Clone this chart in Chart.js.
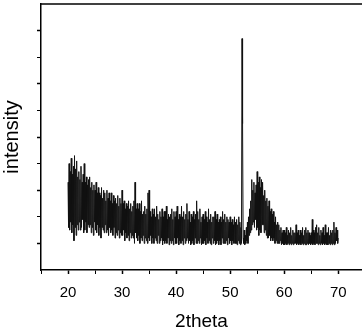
<!DOCTYPE html>
<html lang="en">
    <head>
        <meta charset="UTF-8" />
        <title>XRD pattern</title>
        <script src="https://cdn.jsdelivr.net/npm/chart.js@4.4.1/dist/chart.umd.min.js"></script>
        <style>
            html, body { margin: 0; padding: 0; background: #fff; }
        </style>
    </head>
    <body>
        <canvas id="mychart" width="362" height="333"></canvas>
        <script>
            // scan: 2theta from 20 to 70 in 0.1 degree steps
            const thetaStart = 20;
            const thetaStep = 0.1;

            // intensity (arbitrary units, 0..10 axis), one row per degree
            const intensity = [
                3.3, 1.6, 4.0, 1.5, 3.7, 1.8, 4.2, 1.4, 3.6, 1.7,   // 20
                3.9, 1.1, 4.3, 1.6, 3.8, 1.3, 4.1, 1.7, 3.5, 1.5,   // 21
                3.7, 1.8, 3.4, 1.5, 3.9, 1.6, 3.3, 1.9, 3.6, 1.4,   // 22
                4.0, 1.5, 3.3, 1.8, 3.5, 1.4, 3.2, 1.7, 3.4, 1.6,   // 23
                3.5, 1.7, 3.1, 1.4, 3.3, 1.6, 3.0, 1.3, 3.2, 1.8,   // 24
                3.0, 1.5, 3.3, 1.4, 2.9, 1.7, 3.1, 1.3, 2.9, 1.6,   // 25
                2.8, 1.2, 3.1, 1.6, 2.7, 1.5, 3.0, 1.4, 2.9, 1.7,   // 26
                2.6, 1.4, 3.0, 1.5, 2.7, 1.3, 2.9, 1.6, 2.6, 1.4,   // 27
                2.9, 1.5, 2.5, 1.3, 2.8, 1.6, 2.6, 1.2, 2.7, 1.4,   // 28
                2.5, 1.3, 2.8, 1.5, 2.4, 1.2, 2.7, 1.4, 2.5, 1.3,   // 29
                3.0, 1.3, 2.5, 1.5, 2.6, 1.1, 2.3, 1.4, 2.5, 1.2,   // 30
                2.4, 1.3, 2.6, 1.1, 2.3, 1.4, 2.5, 1.2, 2.2, 1.3,   // 31
                2.4, 1.2, 2.6, 1.0, 3.3, 1.4, 2.3, 1.2, 2.5, 1.1,   // 32
                2.3, 1.3, 2.5, 1.0, 2.2, 1.2, 2.6, 1.1, 2.1, 1.3,   // 33
                2.2, 1.0, 2.4, 1.2, 2.1, 1.1, 2.3, 1.0, 2.9, 1.2,   // 34
                3.0, 1.1, 2.2, 1.3, 2.0, 1.0, 2.3, 1.2, 2.1, 1.0,   // 35
                2.3, 1.2, 2.0, 1.1, 2.4, 1.0, 2.1, 1.3, 1.9, 1.0,   // 36
                2.2, 1.1, 2.0, 1.2, 2.3, 0.95, 2.0, 1.1, 2.2, 1.0,  // 37
                2.2, 1.1, 2.4, 1.0, 1.9, 1.2, 2.1, 0.95, 2.0, 1.1,  // 38
                2.1, 1.0, 2.3, 1.1, 1.9, 0.95, 2.2, 1.2, 2.0, 1.0,  // 39
                2.2, 1.0, 2.4, 1.2, 1.9, 0.95, 2.1, 1.1, 2.0, 1.0,  // 40
                2.4, 1.1, 2.0, 0.95, 2.2, 1.2, 1.9, 1.0, 2.1, 1.1,  // 41
                2.5, 1.2, 1.9, 1.0, 2.2, 1.1, 1.8, 0.95, 2.1, 1.0,  // 42
                2.0, 1.1, 2.2, 0.95, 1.9, 1.2, 2.1, 1.0, 2.6, 1.0,  // 43
                2.2, 1.1, 1.9, 1.0, 2.3, 1.2, 1.8, 0.95, 2.0, 1.0,  // 44
                2.1, 1.0, 1.9, 1.1, 2.2, 0.95, 2.0, 1.2, 1.8, 1.0,  // 45
                2.3, 1.1, 1.9, 1.0, 2.1, 0.95, 1.8, 1.2, 2.0, 1.0,  // 46
                2.0, 1.1, 2.2, 0.95, 1.9, 1.0, 2.1, 1.1, 1.8, 0.95, // 47
                1.9, 1.1, 2.0, 0.95, 1.8, 1.2, 2.2, 1.0, 1.9, 1.0,  // 48
                2.1, 1.0, 1.8, 1.1, 2.0, 0.95, 1.9, 1.2, 1.8, 1.0,  // 49
                2.0, 1.1, 1.8, 0.95, 1.9, 1.1, 1.7, 1.0, 2.0, 1.0,  // 50
                1.8, 1.0, 1.9, 0.95, 1.7, 1.1, 2.0, 1.0, 1.8, 0.95, // 51
                1.6, 1.0, 8.7, 5.5, 1.2, 1.0, 1.5, 0.95, 1.3, 1.0,  // 52
                1.6, 1.1, 1.8, 1.0, 2.0, 1.3, 2.3, 1.4, 2.6, 1.5,   // 53
                3.4, 1.7, 3.0, 1.8, 3.3, 1.6, 2.9, 1.9, 3.2, 1.5,   // 54
                3.7, 1.6, 3.3, 1.3, 3.5, 1.5, 3.1, 1.4, 3.4, 1.7,   // 55
                3.3, 1.7, 2.8, 1.4, 3.0, 1.5, 2.6, 1.3, 2.7, 1.2,   // 56
                2.4, 1.2, 2.6, 1.3, 2.2, 1.1, 2.3, 1.2, 2.1, 1.1,   // 57
                2.2, 1.2, 1.8, 1.0, 2.0, 1.1, 1.7, 1.0, 1.8, 1.0,   // 58
                1.7, 1.0, 1.5, 1.1, 1.6, 0.95, 1.4, 1.0, 1.5, 0.95, // 59
                1.5, 0.95, 1.4, 1.0, 1.6, 0.95, 1.3, 1.0, 1.5, 0.95, // 60
                1.4, 1.0, 1.6, 0.95, 1.3, 1.0, 1.5, 0.95, 1.4, 1.0, // 61
                1.4, 1.0, 1.7, 0.95, 1.4, 1.0, 1.5, 0.95, 1.3, 1.0, // 62
                1.5, 0.95, 1.4, 1.0, 1.6, 0.95, 1.3, 1.0, 1.5, 0.95, // 63
                1.6, 0.95, 1.4, 1.0, 1.5, 0.95, 1.4, 1.0, 1.3, 0.95, // 64
                1.4, 1.0, 1.9, 0.95, 1.5, 1.0, 1.4, 0.95, 1.6, 1.0, // 65
                1.7, 1.0, 1.4, 0.95, 1.6, 1.0, 1.3, 0.95, 1.5, 1.0, // 66
                1.4, 0.95, 1.6, 1.0, 1.3, 0.95, 1.7, 1.0, 1.4, 0.95, // 67
                1.4, 0.95, 1.6, 1.0, 1.3, 0.95, 1.5, 1.0, 1.4, 0.95, // 68
                1.5, 1.0, 1.8, 0.95, 1.4, 1.0, 1.6, 1.1, 1.5, 1.0,  // 69
                1.2                                                 // 70
            ];

            const xTicks = [15, 20, 25, 30, 35, 40, 45, 50, 55, 60, 65, 70];
            const xLabelled = [20, 30, 40, 50, 60, 70];
            const yTicks = [1, 2, 3, 4, 5, 6, 7, 8, 9];
            const yMajor = [1, 3, 5, 7, 9];

            const points = intensity.map((v, i) => ({
                x: +(thetaStart + i * thetaStep).toFixed(1),
                y: v
            }));

            const topBorder = {
                id: 'topBorder',
                afterDraw(chart) {
                    const { ctx, chartArea } = chart;
                    ctx.save();
                    ctx.strokeStyle = '#000';
                    ctx.lineWidth = 1.5;
                    ctx.beginPath();
                    ctx.moveTo(chartArea.left, chartArea.top);
                    ctx.lineTo(chartArea.right, chartArea.top);
                    ctx.stroke();
                    ctx.restore();
                }
            };

            const ctx = document.getElementById("mychart").getContext("2d");

            new Chart(ctx, {
                type: 'line',
                data: {
                    datasets: [{
                        label: 'intensity',
                        data: points,
                        borderColor: '#111',
                        borderWidth: 1,
                        pointRadius: 0,
                        tension: 0
                    }]
                },
                options: {
                    responsive: false,
                    animation: false,
                    layout: { padding: { top: 4, right: 0, left: 0, bottom: 0 } },
                    plugins: {
                        legend: { display: false },
                        tooltip: { enabled: false }
                    },
                    scales: {
                        x: {
                            type: 'linear',
                            min: 15,
                            max: 74.4,
                            afterBuildTicks: axis => { axis.ticks = xTicks.map(v => ({ value: v })); },
                            afterFit: axis => { axis.height = 63; },
                            grid: {
                                display: true,
                                drawOnChartArea: false,
                                drawTicks: true,
                                tickLength: 4,
                                tickColor: '#000',
                                tickWidth: c => xLabelled.includes(c.tick.value) ? 1.5 : 1
                            },
                            border: { display: true, color: '#000', width: 1.5 },
                            ticks: {
                                autoSkip: false,
                                maxRotation: 0,
                                padding: 10,
                                color: '#000',
                                font: { family: 'Liberation Sans', size: 15 },
                                callback: v => xLabelled.includes(v) ? String(v) : ''
                            },
                            title: {
                                display: true,
                                text: '2theta',
                                color: '#000',
                                font: { family: 'Liberation Sans', size: 19 },
                                padding: { top: 4, bottom: 0 }
                            }
                        },
                        y: {
                            min: 0,
                            max: 10,
                            afterBuildTicks: axis => { axis.ticks = yTicks.map(v => ({ value: v })); },
                            afterFit: axis => { axis.width = 41; },
                            grid: {
                                display: true,
                                drawOnChartArea: false,
                                drawTicks: true,
                                tickLength: 4,
                                tickColor: '#000',
                                tickWidth: c => yMajor.includes(c.tick.value) ? 1.5 : 1
                            },
                            border: { display: true, color: '#000', width: 1.5 },
                            ticks: { display: false },
                            title: {
                                display: true,
                                text: 'intensity',
                                color: '#000',
                                font: { family: 'Liberation Sans', size: 20 },
                                padding: { top: 0, bottom: 0 }
                            }
                        }
                    }
                },
                plugins: [topBorder]
            });
        </script>
    </body>
</html>
